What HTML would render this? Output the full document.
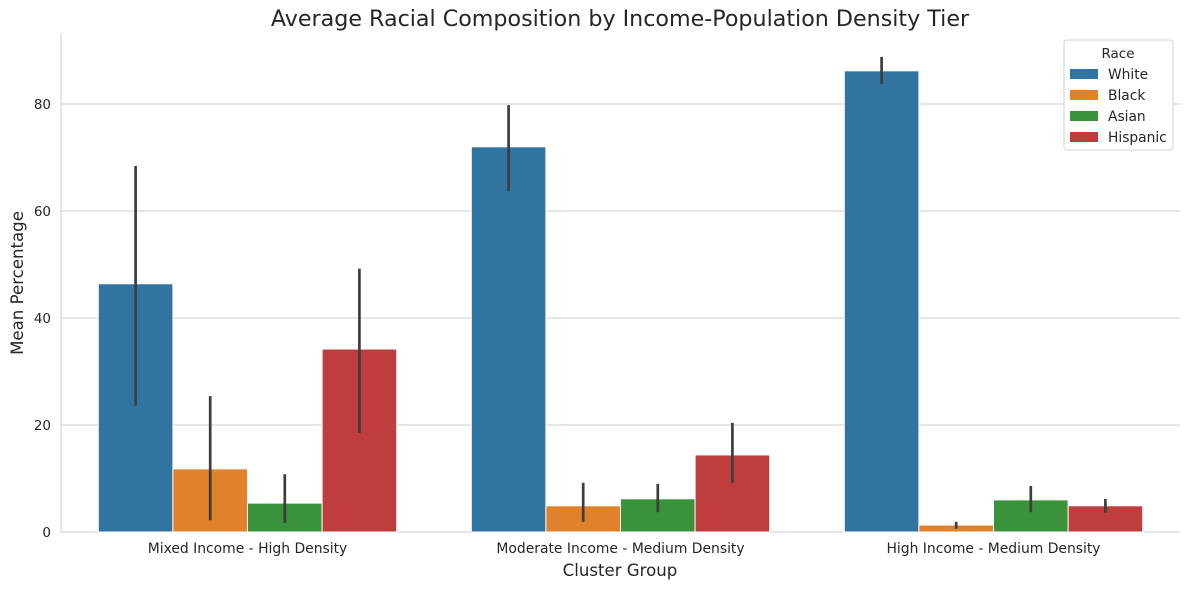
<!DOCTYPE html>
<html><head><meta charset="utf-8"><style>
body{margin:0;background:#fff;font-family:"DejaVu Sans","Liberation Sans",sans-serif}
svg text{font-family:"DejaVu Sans","Liberation Sans",sans-serif}
</style></head><body>
<svg id="c" width="1189" height="590"></svg>
<script>
const categories=["Mixed Income - High Density","Moderate Income - Medium Density","High Income - Medium Density"];
const races=["White","Black","Asian","Hispanic"];
const colors=["#3274a1","#e1812c","#3a923a","#c03d3e"];
const means=[[46.4,11.8,5.4,34.2],[72.0,4.9,6.2,14.4],[86.2,1.3,6.0,4.9]];
const errLow=[[23.6,2.2,1.7,18.5],[63.7,1.9,3.7,9.2],[83.7,0.6,3.7,3.6]];
const errHigh=[[68.4,25.4,10.8,49.2],[79.8,9.2,9.0,20.4],[88.8,1.9,8.6,6.2]];
const yTicks=[0,20,40,60,80];
const NS="http://www.w3.org/2000/svg";
const svg=document.getElementById('c');
function mk(t,a,p){const e=document.createElementNS(NS,t);for(const k in a)e.setAttribute(k,a[k]);(p||svg).appendChild(e);return e;}
const L=61,R=1180,T=33,B=532;
const y=v=>B-v*5.35;
const gw=(R-L)/categories.length;
const x=i=>L+gw*(i+0.5);
const bw=gw*0.8/races.length;
yTicks.forEach(t=>{
 const g=mk('line',{x1:L,x2:R,y1:y(t),y2:y(t),stroke:'#cccccc','stroke-width':1});
 
 const tx=mk('text',{x:L-10,y:y(t)+5,'text-anchor':'end','font-size':13.5,fill:'#262626'});tx.textContent=t;
 
});
mk('line',{x1:L,x2:L,y1:T,y2:B,stroke:'#cccccc'});
mk('line',{x1:L,x2:R,y1:B,y2:B,stroke:'#cccccc'});
categories.forEach((c,i)=>{
 races.forEach((r,j)=>{
  const bx=x(i)-gw*0.4+j*bw;
  const b=mk('rect',{x:bx,y:y(means[i][j]),width:bw,height:B-y(means[i][j]),fill:colors[j],stroke:'#fff','stroke-width':1});
  
  const e=mk('line',{x1:bx+bw/2,x2:bx+bw/2,y1:y(errLow[i][j]),y2:y(errHigh[i][j]),stroke:'#3d3d3d','stroke-width':2.7});
  
 });
 const t=mk('text',{x:x(i),y:553,'text-anchor':'middle','font-size':13.9,fill:'#262626'});t.textContent=c;
 
});
const tt=mk('text',{x:620,y:26,'text-anchor':'middle','font-size':22.2,fill:'#262626'});tt.textContent="Average Racial Composition by Income-Population Density Tier";

const xt=mk('text',{x:620,y:576,'text-anchor':'middle','font-size':16.6,fill:'#262626'});xt.textContent="Cluster Group";

const yt=mk('text',{x:0,y:0,'text-anchor':'middle','font-size':16.6,fill:'#262626',transform:'translate(23,283) rotate(-90)'});yt.textContent="Mean Percentage";

const lg=mk('g',{});

mk('rect',{x:1064,y:40,width:109,height:110,fill:'#fff',stroke:'#d0d0d0',rx:3},lg);
const lt=mk('text',{x:1118,y:58,'text-anchor':'middle','font-size':13.5,fill:'#262626'},lg);lt.textContent="Race";
races.forEach((r,j)=>{
 const g=mk('g',{},lg);
 
 mk('rect',{x:1070,y:69+j*21,width:28,height:10,fill:colors[j]},g);
 const t=mk('text',{x:1108,y:79+j*21,'font-size':13.8,fill:'#262626'},g);t.textContent=r;
});
</script>
</body></html>
